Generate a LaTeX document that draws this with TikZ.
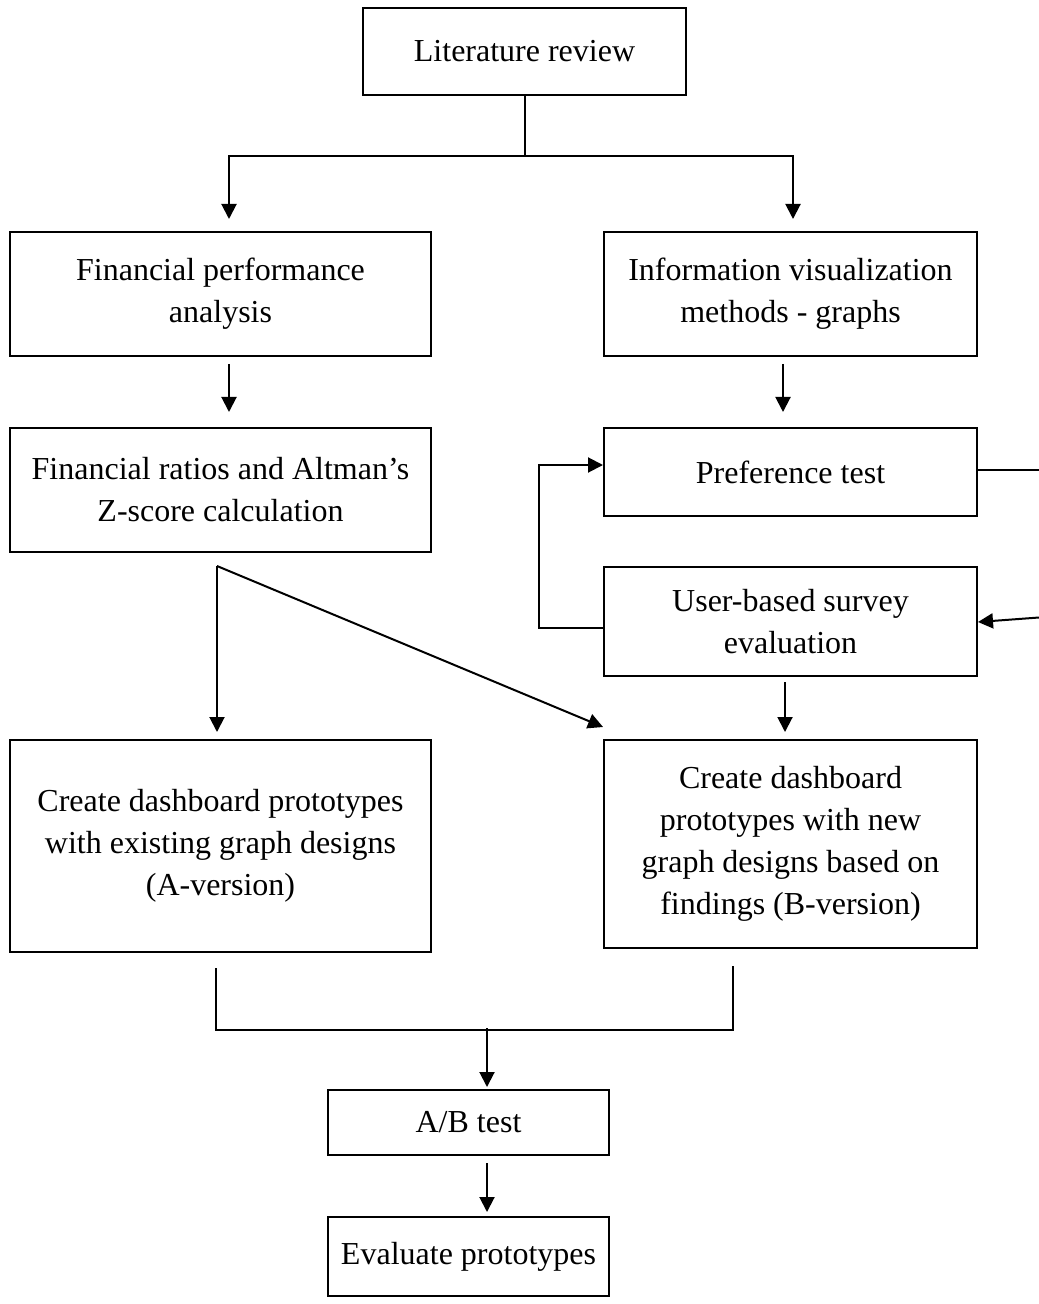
\documentclass[tikz,border=0pt]{standalone}
\usepackage{fontspec}
\setmainfont{Liberation Serif}
\usetikzlibrary{arrows.meta}
\begin{document}
\begin{tikzpicture}[x=0.5pt,y=-0.5pt,line width=1pt,
    arr/.style={-{Triangle[length=7.5pt,width=7.5pt]}}]

      \useasboundingbox (0,0) rectangle (1038,1304);

      \begin{scope}[every node/.style={draw,align=center,inner sep=0pt,
          font=\fontsize{16}{21}\selectfont}]
        \node[minimum width=161.5pt,minimum height=43.5pt] (lit)  at (524.5,51.5)  {Literature review};
        \node[minimum width=210.5pt,minimum height=62pt]   (fpa)  at (220.5,294)   {Financial performance\\analysis};
        \node[minimum width=186.5pt,minimum height=62pt]   (ivm)  at (790.5,294)   {Information visualization\\methods - graphs};
        \node[minimum width=210.5pt,minimum height=62pt]   (frz)  at (220.5,490)   {Financial ratios and Altman's\\Z-score calculation};
        \node[minimum width=186.5pt,minimum height=44pt]   (pref) at (790.5,472)   {Preference test};
        \node[minimum width=186.5pt,minimum height=54.5pt] (ube)  at (790.5,621.5) {User-based survey\\evaluation};
        \node[minimum width=210.5pt,minimum height=106pt]  (dpa)  at (220.5,846)   {Create dashboard prototypes\\with existing graph designs\\(A-version)};
        \node[minimum width=186.5pt,minimum height=104pt]  (dpb)  at (790.5,844)   {Create dashboard\\prototypes with new\\graph designs based on\\findings (B-version)};
        \node[minimum width=140.5pt,minimum height=32.5pt] (ab)   at (468.5,1122.5) {A/B test};
        \node[minimum width=140.5pt,minimum height=39.5pt] (eval) at (468.5,1256.5) {Evaluate prototypes};
      \end{scope}

      % split below the literature review
      \draw (lit.south) -- ++(0,60) coordinate (split);
      \draw[arr,shorten >=6pt] (split) -| ([xshift=4.25pt]fpa.north);
      \draw[arr,shorten >=6pt] (split) -| ([xshift=1.25pt]ivm.north);

      \draw[arr,shorten <=3.5pt,shorten >=7.5pt] ([xshift=4.25pt]fpa.south) -- ([xshift=4.25pt]frz.north);
      \draw[arr,shorten <=3.5pt,shorten >=7.5pt] ([xshift=-3.75pt]ivm.south) -- ([xshift=-3.75pt]pref.north);

      % fork below the ratios
      \coordinate (fork) at ([xshift=-1.75pt,yshift=-6.5pt]frz.south);
      \draw[arr,shorten >=3.5pt] (fork) -- (fork |- dpa.north);
      \draw[arr] (fork) -- ([yshift=6pt]dpb.north west);

      % survey loop
      \draw[arr] ([yshift=-3.25pt]ube.west) -- ++(-64,0) |- ([yshift=3.5pt]pref.west);
      \draw ([yshift=1pt]pref.east) -- ++(61,0) coordinate (out);
      \coordinate (back) at ([xshift=30.5pt,yshift=2pt]ube.east);
      \draw[arr] (back) -- ([yshift=-0.25pt]ube.east);
      \draw[arr,shorten <=2.5pt,shorten >=3.5pt] ([xshift=-2.75pt]ube.south) -- ([xshift=-2.75pt]dpb.north);

      % merge into the A/B test
      \draw ([xshift=-2.25pt,yshift=-7.5pt]dpa.south) -- ++(0,62) -| ([xshift=-28.75pt,yshift=-8.5pt]dpb.south);
      \coordinate (merge) at ([xshift=9.25pt,yshift=30.5pt]ab.north);
      \draw[arr,shorten >=1pt] (merge) -- ([xshift=9.25pt]ab.north);
      \draw[arr,shorten <=3.5pt,shorten >=2pt] ([xshift=9.25pt]ab.south) -- ([xshift=9.25pt]eval.north);

    \end{tikzpicture}
\end{document}
